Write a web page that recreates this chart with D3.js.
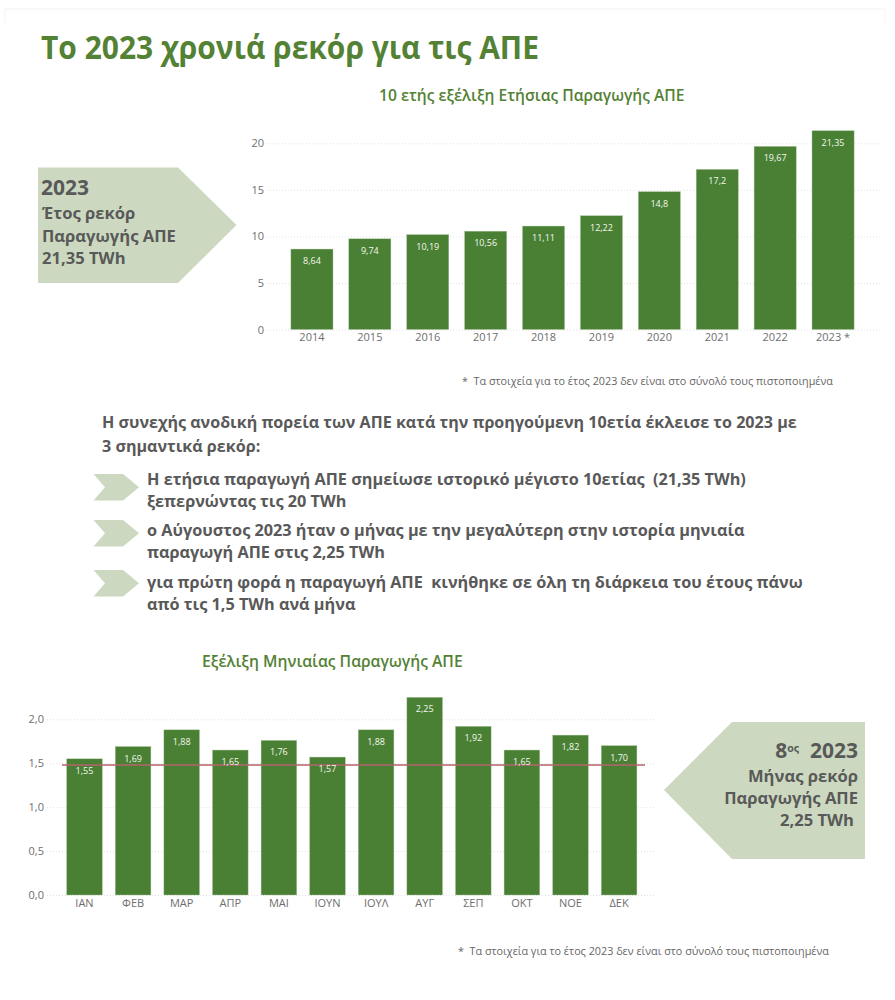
<!DOCTYPE html>
<html>
<head>
    <meta charset="utf-8">
    <script src="https://d3js.org/d3.v7.min.js"></script>
    <style>
        body { margin: 0; background: #fff; font-family: "Open Sans", sans-serif; }
        svg { display: block; }
        .tick text { font-family: "Open Sans", sans-serif; font-size: 11px; fill: #6e6e6e; }
        .gridlines line { stroke: #e2e2e2; stroke-dasharray: 1 2; }
        .gridlines .domain { display: none; }
    </style>
</head>
<body>
    <svg width="895" height="1000"></svg>
    <script>
        // yearly production, TWh
        const years = ["2014", "2015", "2016", "2017", "2018", "2019", "2020", "2021", "2022", "2023 *"];
        const yearValues = [8.64, 9.74, 10.19, 10.56, 11.11, 12.22, 14.8, 17.2, 19.67, 21.35];
        const yearTicks = [0, 5, 10, 15, 20];

        // monthly production 2023, TWh
        const months = ["ΙΑΝ", "ΦΕΒ", "ΜΑΡ", "ΑΠΡ", "ΜΑΙ", "ΙΟΥΝ", "ΙΟΥΛ", "ΑΥΓ", "ΣΕΠ", "ΟΚΤ", "ΝΟΕ", "ΔΕΚ"];
        const monthValues = [1.55, 1.69, 1.88, 1.65, 1.76, 1.57, 1.88, 2.25, 1.92, 1.65, 1.82, 1.70];
        const monthTicks = [0, 0.5, 1, 1.5, 2];
        const monthLine = 1.48;

        const green = "#4a8034";
        const titleGreen = "#548235";
        const pale = "#ccd9c0";
        const comma = s => String(s).replace(".", ",");

        const svg = d3.select("svg");

        // faint frame at the top of the slide
        svg.append("path").attr("d", "M5,23V9H885V23").attr("fill", "none").attr("stroke", "#f2f2f2");

        function text(x, y, str, size, opts = {}) {
            return svg.append("text")
                .attr("x", x).attr("y", y)
                .attr("text-anchor", opts.anchor || "start")
                .attr("font-size", size)
                .attr("font-weight", opts.weight || 400)
                .attr("fill", opts.fill || "#595959")
                .attr("xml:space", "preserve")
                .text(str);
        }

        function barChart(o) {
            const x = d3.scaleBand().domain(o.cats).range(o.xRange).paddingInner(o.pad).paddingOuter(o.pad / 2);
            const y = d3.scaleLinear().domain([0, o.yMax]).range(o.yRange);

            svg.append("g")
                .attr("class", "gridlines")
                .attr("transform", `translate(${o.gridX[0]},0)`)
                .call(d3.axisLeft(y).tickValues(o.ticks).tickSize(-(o.gridX[1] - o.gridX[0])).tickFormat(""));

            svg.append("g")
                .attr("transform", `translate(${o.gridX[0]},0)`)
                .call(d3.axisLeft(y).tickValues(o.ticks).tickSize(0).tickPadding(3).tickFormat(o.tickFormat))
                .call(g => g.select(".domain").remove())
                .call(g => g.selectAll("line").remove());

            svg.append("g")
                .attr("transform", `translate(0,${o.yRange[0]})`)
                .call(d3.axisBottom(x).tickSize(0).tickPadding(4))
                .call(g => g.select(".domain").remove());

            svg.append("g").selectAll("rect")
                .data(o.values)
                .join("rect")
                .attr("x", (d, i) => x(o.cats[i]))
                .attr("y", d => y(d))
                .attr("width", x.bandwidth())
                .attr("height", d => y(0) - y(d))
                .attr("fill", green)
                .attr("stroke", "#a9c49c")
                .attr("stroke-width", 0.4);

            if (o.line !== undefined) {
                svg.append("line")
                    .attr("x1", o.lineX[0]).attr("x2", o.lineX[1])
                    .attr("y1", y(o.line)).attr("y2", y(o.line))
                    .attr("stroke", "#b5636b").attr("stroke-width", 1.6);
            }

            svg.append("g").selectAll("text")
                .data(o.values)
                .join("text")
                .attr("x", (d, i) => x(o.cats[i]) + x.bandwidth() / 2)
                .attr("y", d => y(d) + 15)
                .attr("text-anchor", "middle")
                .attr("font-size", 9)
                .attr("fill", "#f4f8f0")
                .text(o.labelFormat);
        }

        text(41, 59, "Το 2023 χρονιά ρεκόρ για τις ΑΠΕ", 33, { weight: 700, fill: titleGreen })
            .attr("textLength", 498).attr("lengthAdjust", "spacingAndGlyphs");
        text(379, 101, "10 ετής εξέλιξη Ετήσιας Παραγωγής ΑΠΕ", 15.6, { weight: 600, fill: titleGreen });
        text(202, 667, "Εξέλιξη Μηνιαίας Παραγωγής ΑΠΕ", 15.7, { weight: 600, fill: titleGreen });

        barChart({
            cats: years, values: yearValues, ticks: yearTicks,
            xRange: [283, 862], yRange: [329.5, 143.3], yMax: 20, pad: 0.273, gridX: [267, 880],
            tickFormat: d => d, labelFormat: comma
        });

        barChart({
            cats: months, values: monthValues, ticks: monthTicks,
            xRange: [60.2, 643.4], yRange: [895, 719.3], yMax: 2, pad: 0.267, gridX: [47, 655],
            tickFormat: d => comma(d.toFixed(1)), labelFormat: d => comma(d.toFixed(2)),
            line: monthLine, lineX: [62, 645]
        });

        // callout arrows
        svg.append("polygon").attr("points", "38,167.5 178,167.5 236.5,225 178,283 38,283").attr("fill", pale);
        svg.append("polygon").attr("points", "865,722 732,722 664,790 732,859 865,859").attr("fill", pale);

        text(41, 195, "2023", 21, { weight: 700 });
        text(42, 219, "Έτος ρεκόρ", 16.6, { weight: 700 });
        text(42, 242, "Παραγωγής ΑΠΕ", 16.6, { weight: 700 });
        text(42, 264, "21,35 TWh", 16.6, { weight: 700 });

        const t8 = text(858, 758, "", 21, { weight: 700, anchor: "end" });
        t8.append("tspan").text("8");
        t8.append("tspan").attr("font-size", 10.5).attr("dy", -6).text("ος");
        t8.append("tspan").attr("dy", 6).text("  2023");
        text(858, 782, "Μήνας ρεκόρ", 16.6, { weight: 700, anchor: "end" });
        text(858, 804, "Παραγωγής ΑΠΕ", 16.6, { weight: 700, anchor: "end" });
        text(854, 826, "2,25 TWh", 16.6, { weight: 700, anchor: "end" });

        // body text
        text(102, 428, "Η συνεχής ανοδική πορεία των ΑΠΕ κατά την προηγούμενη 10ετία έκλεισε το 2023 με", 16.1, { weight: 700 });
        text(102, 452, "3 σημαντικά ρεκόρ:", 16.1, { weight: 700 });

        const chevronTops = [474, 520, 570];
        chevronTops.forEach(t => {
            svg.append("polygon")
                .attr("points", `93.5,${t} 123,${t} 139,${t + 13.3} 123,${t + 26.6} 93.5,${t + 26.6} 105,${t + 13.3}`)
                .attr("fill", pale);
        });

        text(147, 485, "Η ετήσια παραγωγή ΑΠΕ σημείωσε ιστορικό μέγιστο 10ετίας  (21,35 TWh)", 16.25, { weight: 700 });
        text(147, 507, "ξεπερνώντας τις 20 TWh", 16.25, { weight: 700 });
        text(147, 536, "ο Αύγουστος 2023 ήταν ο μήνας με την μεγαλύτερη στην ιστορία μηνιαία", 16.25, { weight: 700 });
        text(147, 558, "παραγωγή ΑΠΕ στις 2,25 TWh", 16.25, { weight: 700 });
        text(147, 588, "για πρώτη φορά η παραγωγή ΑΠΕ  κινήθηκε σε όλη τη διάρκεια του έτους πάνω", 16.25, { weight: 700 });
        text(147, 610, "από τις 1,5 TWh ανά μήνα", 16.25, { weight: 700 });

        text(462, 385, "*  Τα στοιχεία για το έτος 2023 δεν είναι στο σύνολό τους πιστοποιημένα", 10.8, { fill: "#666" });
        text(458, 955, "*  Τα στοιχεία για το έτος 2023 δεν είναι στο σύνολό τους πιστοποιημένα", 10.8, { fill: "#666" });
    </script>
</body>
</html>
